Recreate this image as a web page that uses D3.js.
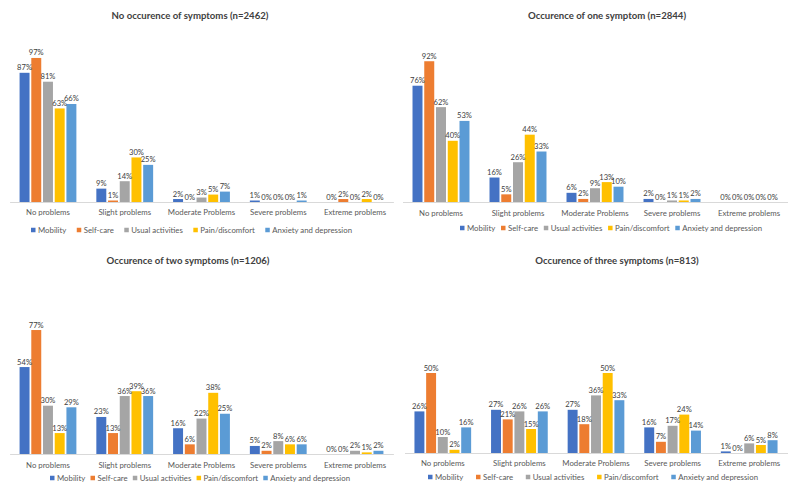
<!DOCTYPE html>
<html>
<head>
<meta charset="utf-8">
<script src="https://cdn.jsdelivr.net/npm/d3@7"></script>
<style>
  html, body { margin: 0; padding: 0; background: #ffffff; }
  svg { display: block; }
  text { font-family: Lato, "Open Sans", "DejaVu Sans", sans-serif; }
</style>
</head>
<body>
<svg id="chart" width="800" height="498"></svg>
<script>
// ---- Data ----
const categories = ["No problems", "Slight problems", "Moderate Problems", "Severe problems", "Extreme problems"];
const seriesNames = ["Mobility", "Self-care", "Usual activities", "Pain/discomfort", "Anxiety and depression"];
const seriesColors = ["#4472C4", "#ED7D31", "#A5A5A5", "#FFC000", "#5B9BD5"];

const titles = [
  "No occurence of symptoms (n=2462)",
  "Occurence of one symptom (n=2844)",
  "Occurence of two symptoms (n=1206)",
  "Occurence of three symptoms (n=813)"
];

// values in % : [series][category]
const noSymptom = [
  [87, 9, 2, 1, 0],
  [97, 1, 0, 0, 2],
  [81, 14, 3, 0, 0],
  [63, 30, 5, 0, 2],
  [66, 25, 7, 1, 0]
];
const oneSymptom = [
  [76, 16, 6, 2, 0],
  [92, 5, 2, 0, 0],
  [62, 26, 9, 1, 0],
  [40, 44, 13, 1, 0],
  [53, 33, 10, 2, 0]
];
const twoSymptoms = [
  [54, 23, 16, 5, 0],
  [77, 13, 6, 2, 0],
  [30, 36, 22, 8, 2],
  [13, 39, 38, 6, 1],
  [29, 36, 25, 6, 2]
];
const threeSymptoms = [
  [26, 27, 27, 16, 1],
  [50, 21, 18, 7, 0],
  [10, 26, 36, 17, 6],
  [2, 15, 50, 24, 5],
  [16, 26, 33, 14, 8]
];

const panelData = [noSymptom, oneSymptom, twoSymptoms, threeSymptoms];

// ---- Layout (per panel) ----
const layouts = [
  { titleX: 190, titleY: 15, x0: 9.6, x1: 393.4, base: 202, top100: 53.5, catY: 212, legY: 230, legL: 31, legR: 352 },
  { titleX: 607, titleY: 15, x0: 402.5, x1: 787.5, base: 202, top100: 49, catY: 213, legY: 228, legL: 460, legR: 762 },
  { titleX: 188, titleY: 260, x0: 9.6, x1: 393.4, base: 454, top100: 293, catY: 465, legY: 478, legL: 50, legR: 350 },
  { titleX: 617, titleY: 260, x0: 404.5, x1: 787.5, base: 453, top100: 293, catY: 463, legY: 477, legL: 428, legR: 758 }
];

const svg = d3.select("#chart");

panelData.forEach((data, pi) => {
  const L = layouts[pi];
  const g = svg.append("g");

  const x = d3.scaleBand().domain(categories).range([L.x0, L.x1]).paddingInner(0.26).paddingOuter(0.13);
  const xs = d3.scaleBand().domain(seriesNames).range([0, x.bandwidth()]).paddingInner(0.15);
  const y = d3.scaleLinear().domain([0, 100]).range([L.base, L.top100]);

  // title
  g.append("text")
    .attr("x", L.titleX).attr("y", L.titleY)
    .attr("text-anchor", "middle").attr("dominant-baseline", "central")
    .attr("font-size", 9.6).attr("font-weight", "bold").attr("fill", "#404040")
    .text(titles[pi]);

  // bars
  const rows = [];
  data.forEach((vals, si) => {
    vals.forEach((v, ci) => rows.push({ s: seriesNames[si], si, c: categories[ci], v }));
  });

  g.selectAll("rect.bar").data(rows).enter().append("rect")
    .attr("class", "bar")
    .attr("x", d => x(d.c) + xs(d.s))
    .attr("width", xs.bandwidth())
    .attr("y", d => y(d.v))
    .attr("height", d => y(0) - y(d.v))
    .attr("fill", d => seriesColors[d.si]);

  // data labels
  g.selectAll("text.lbl").data(rows).enter().append("text")
    .attr("class", "lbl")
    .attr("x", d => x(d.c) + xs(d.s) + xs.bandwidth() / 2)
    .attr("y", d => y(d.v) - 2.5)
    .attr("text-anchor", "middle")
    .attr("font-size", 7.6).attr("fill", "#404040")
    .text(d => d.v + "%");

  // axis line + category labels via d3 axis
  const axis = d3.axisBottom(x).tickSize(0).tickPadding(0);
  const ax = g.append("g").attr("transform", `translate(0,${L.base})`).call(axis);
  ax.select(".domain").attr("stroke", "#D9D9D9").attr("stroke-width", 1);
  ax.selectAll(".tick text")
    .attr("y", L.catY - L.base).attr("dy", "0.35em")
    .attr("font-size", 7.8).attr("fill", "#595959")
    .style("font-family", "Lato, 'Open Sans', sans-serif");

  // legend
  const leg = g.append("g");
  const items = seriesNames.map((name, si) => {
    const it = leg.append("g");
    it.append("rect").attr("width", 4.5).attr("height", 4.5).attr("y", -2.25).attr("fill", seriesColors[si]);
    const t = it.append("text").attr("x", 7).attr("dy", "0.35em")
      .attr("font-size", 7.8).attr("fill", "#595959").text(name);
    return { it, w: 7 + t.node().getComputedTextLength() };
  });
  const totalText = d3.sum(items, d => d.w);
  const gap = ((L.legR - L.legL) - totalText) / (items.length - 1);
  let cx = L.legL;
  items.forEach(d => {
    d.it.attr("transform", `translate(${cx},${L.legY})`);
    cx += d.w + gap;
  });
});
</script>
</body>
</html>
